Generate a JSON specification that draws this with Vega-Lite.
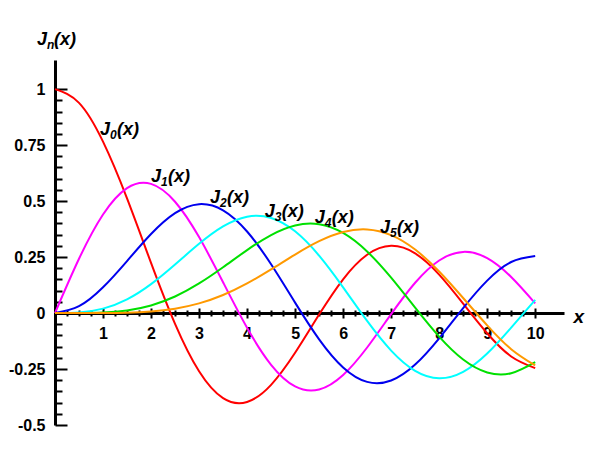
{
  "$schema": "https://vega.github.io/schema/vega-lite/v6.json",
  "width": 509,
  "height": 365,
  "autosize": "none",
  "padding": {"left": 55, "top": 60, "right": 39, "bottom": 42},
  "background": "white",
  "config": {
    "view": {"stroke": null},
    "axis": {
      "grid": false,
      "zindex": 1,
      "domainColor": "black",
      "tickColor": "black",
      "labelColor": "black",
      "labelFont": "Liberation Sans",
      "labelFontWeight": "bold",
      "labelFontSize": 16
    }
  },
  "datasets": {
    "bessel": [
      {"x": 0, "j0": 1, "j1": 0, "j2": 0, "j3": 0, "j4": 0, "j5": 0},
      {"x": 0.5, "j0": 0.93847, "j1": 0.24227, "j2": 0.0306, "j3": 0.00256, "j4": 0.00016, "j5": 0.00001},
      {"x": 1, "j0": 0.7652, "j1": 0.44005, "j2": 0.1149, "j3": 0.01956, "j4": 0.00248, "j5": 0.00025},
      {"x": 1.5, "j0": 0.51183, "j1": 0.55794, "j2": 0.23209, "j3": 0.06096, "j4": 0.01178, "j5": 0.0018},
      {"x": 2, "j0": 0.22389, "j1": 0.57672, "j2": 0.35283, "j3": 0.12894, "j4": 0.034, "j5": 0.00704},
      {"x": 2.5, "j0": -0.04838, "j1": 0.49709, "j2": 0.44606, "j3": 0.2166, "j4": 0.07378, "j5": 0.0195},
      {"x": 3, "j0": -0.26005, "j1": 0.33906, "j2": 0.48609, "j3": 0.30906, "j4": 0.13203, "j5": 0.04303},
      {"x": 3.5, "j0": -0.38013, "j1": 0.13738, "j2": 0.45863, "j3": 0.38677, "j4": 0.2044, "j5": 0.08043},
      {"x": 4, "j0": -0.39715, "j1": -0.06604, "j2": 0.36413, "j3": 0.43017, "j4": 0.28113, "j5": 0.13209},
      {"x": 4.5, "j0": -0.32054, "j1": -0.23106, "j2": 0.21785, "j3": 0.4247, "j4": 0.34842, "j5": 0.19471},
      {"x": 5, "j0": -0.1776, "j1": -0.32758, "j2": 0.04657, "j3": 0.36483, "j4": 0.39123, "j5": 0.26114},
      {"x": 5.5, "j0": -0.00684, "j1": -0.34144, "j2": -0.11732, "j3": 0.25612, "j4": 0.39672, "j5": 0.32093},
      {"x": 6, "j0": 0.15065, "j1": -0.27668, "j2": -0.24287, "j3": 0.11476, "j4": 0.35764, "j5": 0.36209},
      {"x": 6.5, "j0": 0.26009, "j1": -0.15384, "j2": -0.30743, "j3": -0.03535, "j4": 0.2748, "j5": 0.37357},
      {"x": 7, "j0": 0.30008, "j1": -0.00468, "j2": -0.30142, "j3": -0.16756, "j4": 0.15779, "j5": 0.3479},
      {"x": 7.5, "j0": 0.26634, "j1": 0.13525, "j2": -0.23027, "j3": -0.25806, "j4": 0.02382, "j5": 0.28347},
      {"x": 8, "j0": 0.17165, "j1": 0.23464, "j2": -0.11299, "j3": -0.29113, "j4": -0.10536, "j5": 0.18577},
      {"x": 8.5, "j0": 0.04193, "j1": 0.27312, "j2": 0.02233, "j3": -0.26261, "j4": -0.2077, "j5": 0.06713},
      {"x": 9, "j0": -0.09033, "j1": 0.24531, "j2": 0.14485, "j3": -0.18094, "j4": -0.26547, "j5": -0.05504},
      {"x": 9.5, "j0": -0.19393, "j1": 0.16126, "j2": 0.22788, "j3": -0.06531, "j4": -0.26913, "j5": -0.16133},
      {"x": 10, "j0": -0.24594, "j1": 0.04347, "j2": 0.25463, "j3": 0.05838, "j4": -0.2196, "j5": -0.23406}
    ],
    "labels": [
      {"sub": "n", "lx": -0.375, "ly": 1.197},
      {"sub": "0", "lx": 0.937, "ly": 0.795},
      {"sub": "1", "lx": 2.0, "ly": 0.585},
      {"sub": "2", "lx": 3.23, "ly": 0.491},
      {"sub": "3", "lx": 4.37, "ly": 0.429},
      {"sub": "4", "lx": 5.41, "ly": 0.402},
      {"sub": "5", "lx": 6.77, "ly": 0.357}
    ]
  },
  "resolve": {"axis": {"x": "independent", "y": "independent"}},
  "layer": [
    {
      "data": {"name": "bessel"},
      "transform": [{"fold": ["j0", "j1", "j2", "j3", "j4", "j5"], "as": ["fn", "value"]}],
      "mark": {"type": "line", "strokeWidth": 2, "interpolate": "natural"},
      "encoding": {
        "x": {
          "field": "x",
          "type": "quantitative",
          "scale": {"domain": [0, 10.6], "nice": false, "zero": false},
          "axis": {
            "orient": "bottom",
            "offset": -112,
            "values": [1, 2, 3, 4, 5, 6, 7, 8, 9, 10],
            "ticks": false,
            "domainWidth": 3,
            "labelPadding": 12,
            "labelExpr": "'' + datum.value",
            "title": "x",
            "titleX": 518,
            "titleY": 9,
            "titleAlign": "left",
            "titleBaseline": "alphabetic",
            "titleFont": "Liberation Sans",
            "titleFontSize": 19,
            "titleFontWeight": "bold",
            "titleFontStyle": "italic",
            "titleColor": "black"
          }
        },
        "y": {
          "field": "value",
          "type": "quantitative",
          "scale": {"domain": [-0.5, 1.13], "nice": false, "zero": false},
          "axis": {
            "orient": "left",
            "values": [-0.5, -0.25, 0, 0.25, 0.5, 0.75, 1],
            "ticks": false,
            "domainWidth": 3,
            "labelPadding": 10,
            "labelExpr": "'' + datum.value",
            "title": null
          }
        },
        "color": {
          "field": "fn",
          "type": "nominal",
          "scale": {
            "domain": ["j0", "j1", "j2", "j3", "j4", "j5"],
            "range": ["#ff0000", "#ff00ff", "#0000ee", "#00ffff", "#00e000", "#ff9900"]
          },
          "legend": null
        }
      }
    },
    {
      "data": {"name": "labels"},
      "mark": {"type": "text", "text": "J", "align": "left", "baseline": "alphabetic", "font": "Liberation Sans", "fontSize": 18, "fontWeight": "bold", "fontStyle": "italic", "color": "black"},
      "encoding": {
        "x": {
          "field": "lx",
          "type": "quantitative",
          "axis": {"orient": "bottom", "offset": -107, "values": [1, 2, 3, 4, 5, 6, 7, 8, 9, 10], "tickSize": -10, "tickWidth": 2, "domain": false, "labels": false, "title": null}
        },
        "y": {
          "field": "ly",
          "type": "quantitative",
          "axis": {"orient": "left", "values": [-0.5, -0.25, 0, 0.25, 0.5, 0.75, 1], "tickSize": -12, "tickWidth": 2, "domain": false, "labels": false, "title": null}
        }
      }
    },
    {
      "data": {"name": "labels"},
      "mark": {"type": "text", "align": "left", "baseline": "alphabetic", "dx": 10, "dy": 4, "font": "Liberation Sans", "fontSize": 12, "fontWeight": "bold", "fontStyle": "italic", "color": "black"},
      "encoding": {
        "text": {"field": "sub", "type": "nominal"},
        "x": {
          "field": "lx",
          "type": "quantitative",
          "axis": {"orient": "bottom", "offset": -109, "values": [0.25, 0.5, 0.75, 1.25, 1.5, 1.75, 2.25, 2.5, 2.75, 3.25, 3.5, 3.75, 4.25, 4.5, 4.75, 5.25, 5.5, 5.75, 6.25, 6.5, 6.75, 7.25, 7.5, 7.75, 8.25, 8.5, 8.75, 9.25, 9.5, 9.75], "tickSize": -6, "tickWidth": 2, "domain": false, "labels": false, "title": null}
        },
        "y": {
          "field": "ly",
          "type": "quantitative",
          "axis": {"orient": "left", "values": [-0.45, -0.4, -0.35, -0.3, -0.2, -0.15, -0.1, -0.05, 0.05, 0.1, 0.15, 0.2, 0.3, 0.35, 0.4, 0.45, 0.55, 0.6, 0.65, 0.7, 0.8, 0.85, 0.9, 0.95], "tickSize": -7, "tickWidth": 2, "domain": false, "labels": false, "title": null}
        }
      }
    },
    {
      "data": {"name": "labels"},
      "mark": {"type": "text", "text": "(x)", "align": "left", "baseline": "alphabetic", "dx": 17, "font": "Liberation Sans", "fontSize": 18, "fontWeight": "bold", "fontStyle": "italic", "color": "black"},
      "encoding": {
        "x": {"field": "lx", "type": "quantitative", "axis": null},
        "y": {"field": "ly", "type": "quantitative", "axis": null}
      }
    }
  ]
}
